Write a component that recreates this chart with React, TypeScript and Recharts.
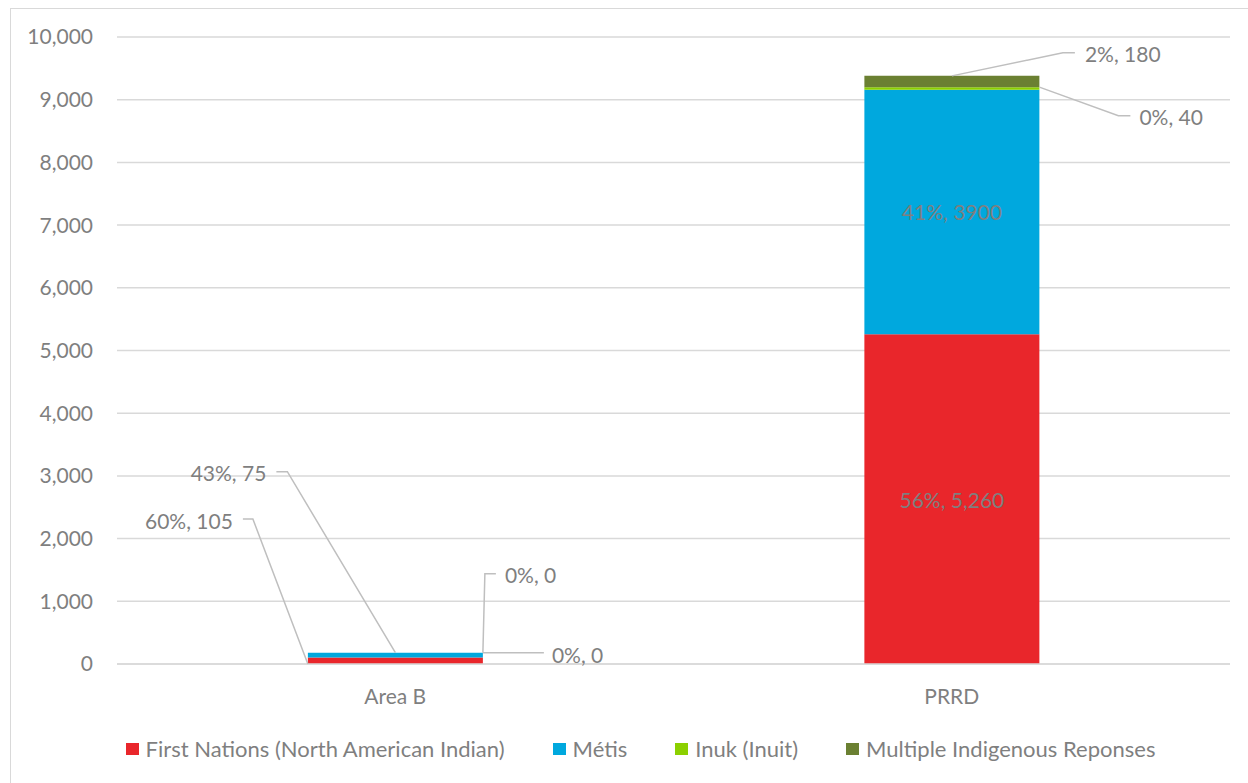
import { BarChart, Bar, XAxis, YAxis, CartesianGrid, Legend, LabelList } from "recharts";

// ---- data ----
const categories = ["Area B", "PRRD"];
const firstNations = [105, 5260];
const metis = [75, 3900];
const inuk = [0, 40];
const multiple = [0, 180];
// percentages as printed on the labels
const firstNationsPct = [60, 56];
const metisPct = [43, 41];
const inukPct = [0, 0];
const multiplePct = [0, 2];
const yTicks = [0, 1000, 2000, 3000, 4000, 5000, 6000, 7000, 8000, 9000, 10000];

const FONT = "Lato, 'Open Sans', sans-serif";
const TEXT = "#7f7f7f";
const LEADER = "#bfbfbf";

// label placement per category: inside the segment, or a callout with a leader line
type Callout =
  | { kind: "inside" }
  | {
      kind: "leader";
      anchor: "bottomLeft" | "topCenter" | "topRight";
      path: [number, number][];
      text: [number, number];
      side: "start" | "end";
    };

interface Series {
  key: string;
  name: string;
  color: string;
  values: number[];
  pct: number[];
  comma: boolean;
  callouts: Callout[];
}

const series: Series[] = [
  {
    key: "firstNations",
    name: "First Nations (North American Indian)",
    color: "#E9262B",
    values: firstNations,
    pct: firstNationsPct,
    comma: true,
    callouts: [
      { kind: "leader", anchor: "bottomLeft", path: [[-55, -145], [-65, -145]], text: [-75, -144], side: "end" },
      { kind: "inside" },
    ],
  },
  {
    key: "metis",
    name: "Métis",
    color: "#00A8DE",
    values: metis,
    pct: metisPct,
    comma: false,
    callouts: [
      { kind: "leader", anchor: "topCenter", path: [[-108, -181], [-119, -181]], text: [-129, -180], side: "end" },
      { kind: "inside" },
    ],
  },
  {
    key: "inuk",
    name: "Inuk (Inuit)",
    color: "#8CD000",
    values: inuk,
    pct: inukPct,
    comma: false,
    callouts: [
      { kind: "leader", anchor: "topRight", path: [[2, -79], [13, -79]], text: [22, -78], side: "start" },
      { kind: "leader", anchor: "topRight", path: [[79, 28.5], [91, 28.5]], text: [100, 29.5], side: "start" },
    ],
  },
  {
    key: "multiple",
    name: "Multiple Indigenous Reponses",
    color: "#6B8032",
    values: multiple,
    pct: multiplePct,
    comma: false,
    callouts: [
      { kind: "leader", anchor: "topRight", path: [[61, 0]], text: [69, 1.5], side: "start" },
      { kind: "leader", anchor: "topCenter", path: [[111, -23], [123, -23]], text: [133, -22], side: "start" },
    ],
  },
];

const chartData = categories.map((name, i) => {
  const row: Record<string, string | number> = { name };
  series.forEach((s) => {
    row[s.key] = s.values[i];
  });
  return row;
});

const fmt = (v: number, comma: boolean) => (comma ? v.toLocaleString("en-US") : String(v));

// one label (inside text or leader + text) for series s at category i, on rect x/y/w/h
const drawLabel = (s: Series, i: number, x: number, y: number, w: number, h: number) => {
  const spec = s.callouts[i];
  if (!spec) return null;
  const text = `${s.pct[i]}%, ${fmt(s.values[i], s.comma)}`;
  if (spec.kind === "inside") {
    return (
      <text key={s.key} x={x + w / 2} y={y + h / 2} textAnchor="middle" dominantBaseline="central" fill={TEXT} fontSize={21} fontFamily={FONT}>
        {text}
      </text>
    );
  }
  let ax = x;
  let ay = y;
  if (spec.anchor === "bottomLeft") ay = y + h;
  if (spec.anchor === "topCenter") ax = x + w / 2;
  if (spec.anchor === "topRight") ax = x + w;
  const pts = [[ax, ay], ...spec.path.map(([dx, dy]) => [ax + dx, ay + dy])]
    .map((p) => p.join(","))
    .join(" ");
  return (
    <g key={s.key}>
      <polyline points={pts} fill="none" stroke={LEADER} strokeWidth={1.5} />
      <text
        x={ax + spec.text[0]}
        y={ay + spec.text[1]}
        textAnchor={spec.side}
        dominantBaseline="central"
        fill={TEXT}
        fontSize={21}
        fontFamily={FONT}
      >
        {text}
      </text>
    </g>
  );
};

// Recharts skips zero-height segments, so the segment below draws their callouts
// (a zero segment sits on top of this one, with no height)
const makeLabel = (sIdx: number) => (props: any) => {
  const i = categories.indexOf(String(props.value));
  if (i < 0) return null;
  const x = Number(props.x);
  const y = Number(props.y);
  const w = Number(props.width);
  const h = Number(props.height);
  const out = [drawLabel(series[sIdx], i, x, y, w, h)];
  for (let j = sIdx + 1; j < series.length && series[j].values[i] === 0; j++) {
    out.push(drawLabel(series[j], i, x, y, w, 0));
  }
  return <g>{out}</g>;
};

const renderLegend = () => (
  <div style={{ display: "flex", justifyContent: "center", alignItems: "center", gap: 48, fontFamily: FONT }}>
    {series.map((s) => (
      <div key={s.key} style={{ display: "flex", alignItems: "center" }}>
        <span style={{ display: "inline-block", width: 13, height: 12, background: s.color, marginRight: 7 }} />
        <span style={{ fontSize: 22, color: TEXT, whiteSpace: "nowrap" }}>{s.name}</span>
      </div>
    ))}
  </div>
);

export default function App() {
  return (
    <div style={{ position: "fixed", left: 10, top: 8, width: 1238, height: 775, overflow: "hidden", fontFamily: FONT }}>
      <div style={{ width: 1260, height: 800, border: "1px solid #d9d9d9", background: "#fff" }}>
        <BarChart
          width={1258}
          height={775}
          data={chartData}
          margin={{ top: 28, right: 39, bottom: 80, left: 0 }}
          barCategoryGap="34.3%"
        >
          <CartesianGrid vertical={false} stroke="#d9d9d9" strokeWidth={1.5} />
          <XAxis
            dataKey="name"
            axisLine={{ stroke: "#d9d9d9", strokeWidth: 1.5 }}
            tickLine={false}
            height={40}
            tickMargin={19}
            tick={{ fill: TEXT, fontSize: 21, fontFamily: FONT }}
          />
          <YAxis
            width={106}
            domain={[0, 10000]}
            ticks={yTicks}
            axisLine={false}
            tickLine={false}
            tickMargin={18}
            tickFormatter={(v: number) => v.toLocaleString("en-US")}
            tick={{ fill: TEXT, fontSize: 21, fontFamily: FONT }}
          />
          <Legend
            layout="horizontal"
            verticalAlign="middle"
            align="center"
            content={renderLegend}
            wrapperStyle={{ top: 726, left: 0, width: 1259 }}
          />
          {series.map((s, sIdx) => (
            <Bar key={s.key} dataKey={s.key} name={s.name} stackId="a" fill={s.color} isAnimationActive={false}>
              <LabelList dataKey="name" content={makeLabel(sIdx)} />
            </Bar>
          ))}
        </BarChart>
      </div>
    </div>
  );
}
